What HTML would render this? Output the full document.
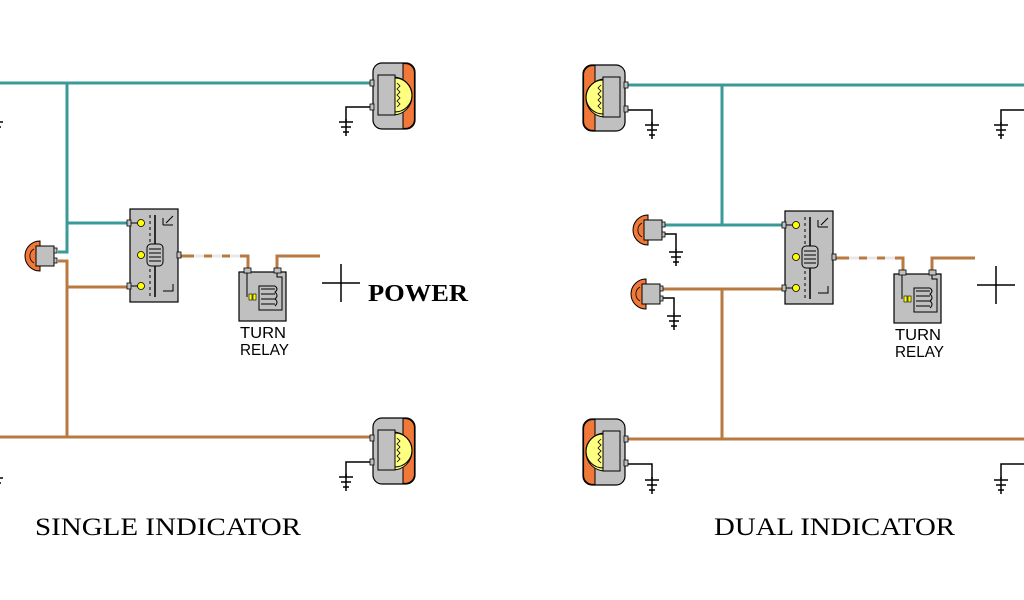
<!DOCTYPE html>
<html><head><style>
html,body{margin:0;padding:0;background:#fff;}
svg{display:block;}
.t{font-family:"Liberation Serif",serif;}
.s{font-family:"Liberation Sans",sans-serif;}
</style></head><body>
<svg width="1024" height="600" viewBox="0 0 1024 600" xmlns="http://www.w3.org/2000/svg">
<defs>
<g id="bigR">
 <rect x="0" y="0" width="42" height="66" rx="9" fill="#c0c0c0" stroke="#000" stroke-width="1.2"/>
 <path d="M30 0.6 H33 A9 9 0 0 1 41.4 9 V57 A9 9 0 0 1 33 65.4 H30 Z" fill="#f07838" stroke="#000" stroke-width="1"/>
 <path d="M20 14 A19 19 0 0 1 20 52 Z" fill="#ffff80" stroke="#000" stroke-width="1"/>
 <rect x="5" y="12" width="17" height="40" fill="#c0c0c0" stroke="#000" stroke-width="1"/>
 <path d="M22 15 A17 17 0 0 1 22 49" fill="none" stroke="#000" stroke-width="1"/>
 <polyline points="24,20 27,23 24,26 27,29 24,32 27,35 24,38 27,41 24,44" fill="none" stroke="#000" stroke-width="0.8"/>
 <rect x="-3" y="17" width="4" height="6" fill="#c0c0c0" stroke="#000" stroke-width="0.8"/>
 <rect x="-3" y="41" width="4" height="6" fill="#c0c0c0" stroke="#000" stroke-width="0.8"/>
</g>
<g id="gnd">
 <line x1="-7" y1="0" x2="7" y2="0" stroke="#000" stroke-width="1.5"/>
 <line x1="-5" y1="5" x2="5" y2="5" stroke="#000" stroke-width="1.5"/>
 <line x1="-3" y1="10" x2="3" y2="10" stroke="#000" stroke-width="1.5"/>
 <line x1="0" y1="-3" x2="0" y2="14" stroke="#000" stroke-width="1.5"/>
</g>
<g id="small">
 <path d="M20 1 A15 15 0 0 0 20 31 Z" fill="#f07838" stroke="#000" stroke-width="1"/>
 <path d="M14 9 A8 8 0 0 0 14 23" fill="none" stroke="#000" stroke-width="0.8"/>
 <rect x="16" y="6" width="18" height="20" fill="#c0c0c0" stroke="#000" stroke-width="1"/>
 <rect x="34" y="8" width="3" height="5" fill="#c0c0c0" stroke="#000" stroke-width="0.8"/>
 <rect x="34" y="18" width="3" height="5" fill="#c0c0c0" stroke="#000" stroke-width="0.8"/>
</g>
<g id="sw">
 <rect x="0" y="0" width="48" height="93" fill="#c0c0c0" stroke="#000" stroke-width="1.2"/>
 <rect x="-3" y="11" width="4" height="6" fill="#c0c0c0" stroke="#000" stroke-width="0.8"/>
 <rect x="-3" y="74" width="4" height="6" fill="#c0c0c0" stroke="#000" stroke-width="0.8"/>
 <rect x="47" y="43" width="4" height="6" fill="#c0c0c0" stroke="#000" stroke-width="0.8"/>
 <circle cx="11" cy="14" r="3.5" fill="#ffff00" stroke="#000" stroke-width="0.8"/>
 <circle cx="11" cy="46" r="3.5" fill="#ffff00" stroke="#000" stroke-width="0.8"/>
 <circle cx="11" cy="77" r="3.5" fill="#ffff00" stroke="#000" stroke-width="0.8"/>
 <line x1="1" y1="14" x2="8" y2="14" stroke="#000"/>
 <line x1="1" y1="77" x2="8" y2="77" stroke="#000"/>
 <line x1="25" y1="6" x2="25" y2="88" stroke="#000" stroke-width="1.5"/>
 <line x1="20" y1="6" x2="20" y2="88" stroke="#000" stroke-width="1" stroke-dasharray="3,3"/>
 <rect x="17" y="35" width="16" height="22" rx="4" fill="#c0c0c0" stroke="#000" stroke-width="1"/>
 <line x1="19" y1="40" x2="31" y2="40" stroke="#000"/><line x1="19" y1="44" x2="31" y2="44" stroke="#000"/><line x1="19" y1="48" x2="31" y2="48" stroke="#000"/><line x1="19" y1="52" x2="31" y2="52" stroke="#000"/>
 <path d="M33 16 V9 M33 16 H43 M36 14 L43 7" fill="none" stroke="#000"/>
 <path d="M33 82 H43 V75" fill="none" stroke="#000"/>
</g>
<g id="relay">
 <rect x="0" y="0" width="47" height="49" fill="#c0c0c0" stroke="#000" stroke-width="1.2"/>
 <rect x="5" y="-4" width="7" height="5" fill="#c0c0c0" stroke="#000" stroke-width="0.8"/>
 <rect x="35" y="-4" width="7" height="5" fill="#c0c0c0" stroke="#000" stroke-width="0.8"/>
 <path d="M8 1 V25" stroke="#000" fill="none"/>
 <rect x="10" y="22" width="3" height="6" fill="#ffff00" stroke="#000" stroke-width="0.6"/>
 <rect x="14" y="22" width="3" height="6" fill="#ffff00" stroke="#000" stroke-width="0.6"/>
 <path d="M38 1 V5 H43 V38 H20 V14 H36" stroke="#000" fill="none"/>
 <line x1="22" y1="17" x2="36" y2="17" stroke="#000"/><line x1="22" y1="22" x2="36" y2="22" stroke="#000"/><line x1="22" y1="27" x2="36" y2="27" stroke="#000"/><line x1="22" y1="32" x2="36" y2="32" stroke="#000"/>
 <path d="M36 14 Q40 17 36 20 Q40 24 36 27 Q40 30 36 34" fill="none" stroke="#000"/>
</g>
</defs>

<!-- ===== LEFT ===== -->
<g fill="none" stroke-width="3">
 <polyline points="0,83 372,83" stroke="#3a9a9a"/>
 <polyline points="67,83 67,252 58,252" stroke="#3a9a9a"/>
 <polyline points="67,223 130,223" stroke="#3a9a9a"/>
 <polyline points="58,261 67,261 67,437" stroke="#b87a40"/>
 <polyline points="67,287 130,287" stroke="#b87a40"/>
 <polyline points="0,437 372,437" stroke="#b87a40"/>
 <polyline points="178,256 248,256 248,270" stroke="#b87a40"/>
 <line x1="194" y1="256" x2="240" y2="256" stroke="#e8e8e8" stroke-dasharray="10,8"/>
 <polyline points="277,270 277,256 320,256" stroke="#b87a40"/>
</g>
<g stroke="#000" stroke-width="1.5" fill="none">
 <polyline points="372,107 346,107 346,121"/>
 <polyline points="372,462 346,462 346,477"/>
</g>
<use href="#gnd" x="346" y="122"/>
<use href="#gnd" x="346" y="477"/>
<use href="#gnd" x="-4" y="122"/>
<use href="#gnd" x="-4" y="478"/>
<use href="#bigR" x="373" y="63"/>
<use href="#bigR" x="373" y="418"/>
<use href="#small" x="20" y="240"/>
<use href="#sw" x="130" y="209"/>
<use href="#relay" x="239" y="272"/>
<line x1="322" y1="283" x2="360" y2="283" stroke="#000" stroke-width="1.5"/>
<line x1="341" y1="264" x2="341" y2="302" stroke="#000" stroke-width="1.5"/>
<text x="368" y="301" class="t" font-size="24" font-weight="bold" textLength="100" lengthAdjust="spacingAndGlyphs">POWER</text>
<text x="240" y="338" class="s" font-size="16" textLength="46" lengthAdjust="spacingAndGlyphs">TURN</text>
<text x="240" y="355" class="s" font-size="16" textLength="49" lengthAdjust="spacingAndGlyphs">RELAY</text>
<text x="35" y="535" class="t" font-size="25" textLength="266" lengthAdjust="spacingAndGlyphs">SINGLE INDICATOR</text>

<!-- ===== RIGHT ===== -->
<g fill="none" stroke-width="3">
 <polyline points="625,85 1024,85" stroke="#3a9a9a"/>
 <polyline points="722,85 722,225" stroke="#3a9a9a"/>
 <polyline points="665,225 785,225" stroke="#3a9a9a"/>
 <polyline points="663,289 785,289" stroke="#b87a40"/>
 <polyline points="722,289 722,439" stroke="#b87a40"/>
 <polyline points="625,439 1024,439" stroke="#b87a40"/>
 <polyline points="833,258 903,258 903,272" stroke="#b87a40"/>
 <line x1="849" y1="258" x2="895" y2="258" stroke="#e8e8e8" stroke-dasharray="10,8"/>
 <polyline points="932,272 932,258 975,258" stroke="#b87a40"/>
</g>
<g stroke="#000" stroke-width="1.5" fill="none">
 <polyline points="625,110 652,110 652,124"/>
 <polyline points="625,464 652,464 652,479"/>
 <polyline points="665,234 676,234 676,250"/>
 <polyline points="663,298 674,298 674,314"/>
 <polyline points="1024,110 1001,110 1001,124"/>
 <polyline points="1024,464 1001,464 1001,479"/>
</g>
<use href="#gnd" x="652" y="125"/>
<use href="#gnd" x="652" y="480"/>
<use href="#gnd" x="676" y="252"/>
<use href="#gnd" x="674" y="316"/>
<use href="#gnd" x="1001" y="125"/>
<use href="#gnd" x="1001" y="480"/>
<use href="#bigR" transform="translate(625,65) scale(-1,1)"/>
<use href="#bigR" transform="translate(625,419) scale(-1,1)"/>
<use href="#small" x="628" y="214"/>
<use href="#small" x="626" y="278"/>
<use href="#sw" x="785" y="211"/>
<use href="#relay" x="894" y="274"/>
<line x1="977" y1="285" x2="1015" y2="285" stroke="#000" stroke-width="1.5"/>
<line x1="996" y1="266" x2="996" y2="304" stroke="#000" stroke-width="1.5"/>
<text x="895" y="340" class="s" font-size="16" textLength="46" lengthAdjust="spacingAndGlyphs">TURN</text>
<text x="895" y="357" class="s" font-size="16" textLength="49" lengthAdjust="spacingAndGlyphs">RELAY</text>
<text x="714" y="535" class="t" font-size="25" textLength="241" lengthAdjust="spacingAndGlyphs">DUAL INDICATOR</text>
</svg>
</body></html>
